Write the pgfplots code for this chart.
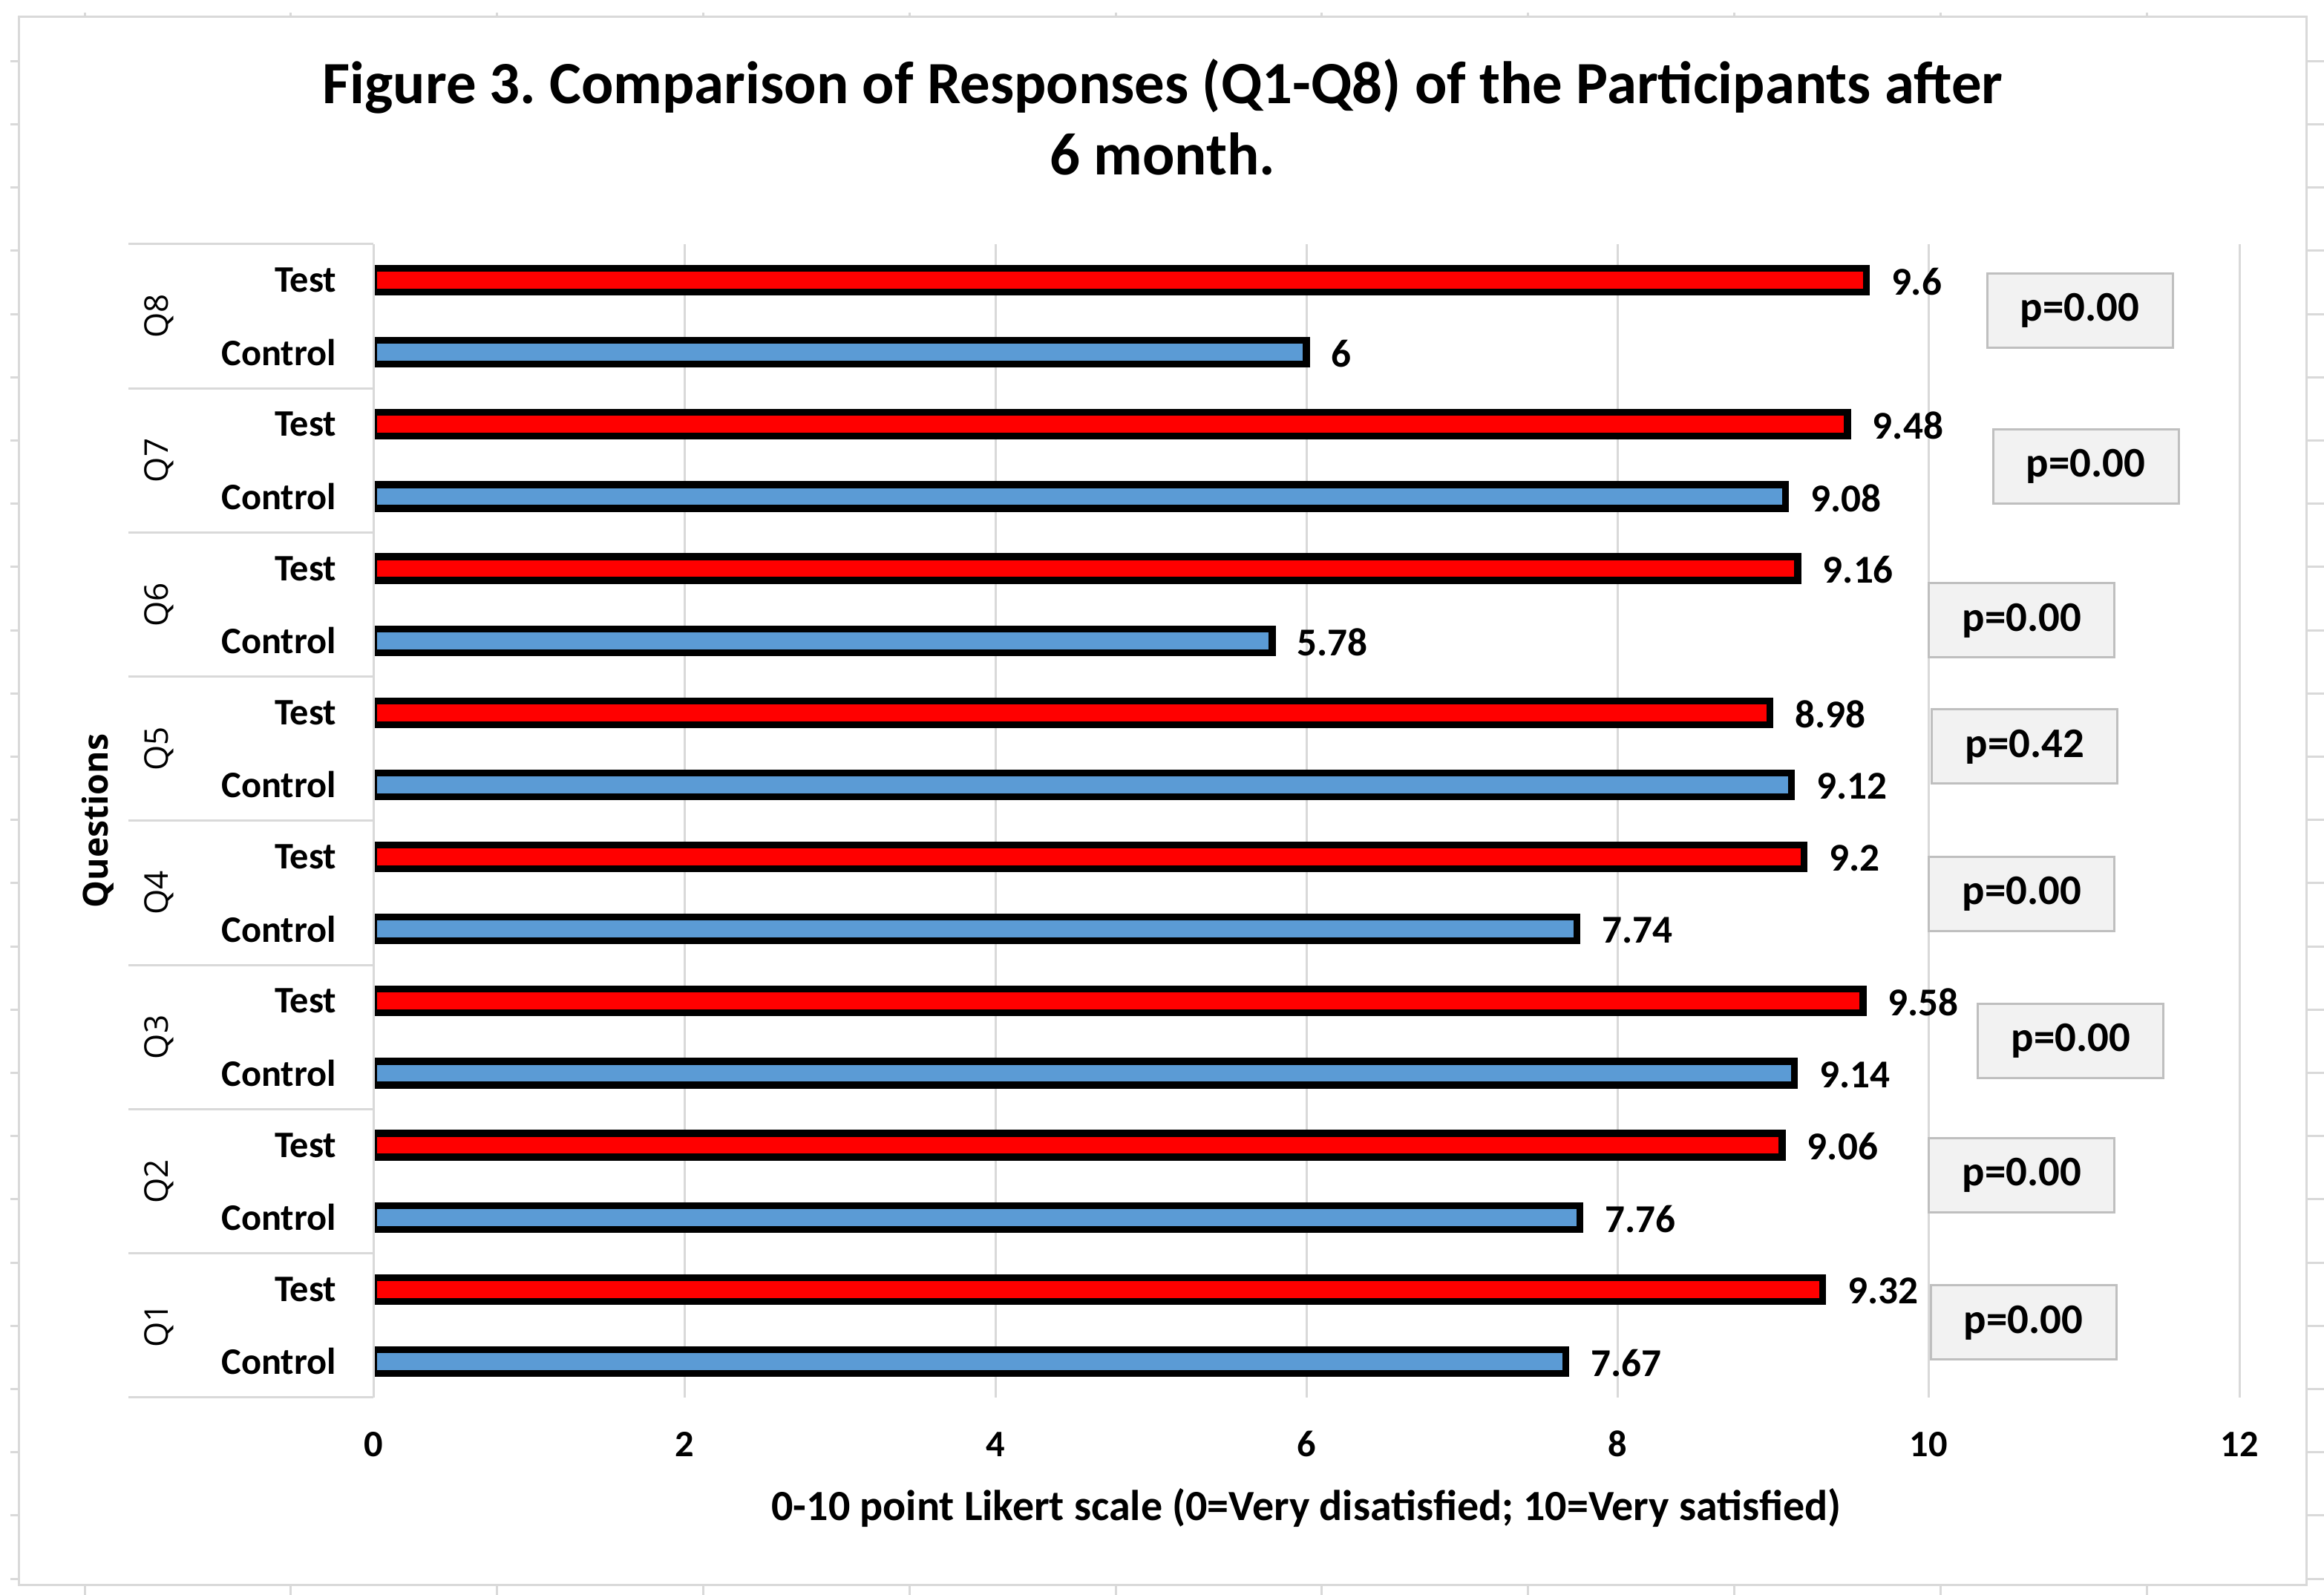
\documentclass[border=0pt]{standalone}
\usepackage{pgfplots}
\pgfplotsset{compat=1.18}
\usepackage{fontspec}
\setmainfont{Carlito}
\newfontfamily\osans{Open Sans}
\frenchspacing

\definecolor{barred}{RGB}{255,0,0}
\definecolor{barblue}{RGB}{91,155,213}
\definecolor{gridgray}{RGB}{217,217,217}
\definecolor{boxfill}{RGB}{242,242,242}
\definecolor{boxline}{RGB}{191,191,191}

\newcommand{\lbl}{\bfseries\fontsize{12.6}{14}\selectfont}
\newcommand{\vlbl}{\bfseries\fontsize{13.3}{15}\selectfont}

\begin{document}
\begin{tikzpicture}
% page frame (spreadsheet background + chart area border)
\path[use as bounding box, fill=white] (0,0) rectangle (782.75pt,537.25pt);
\foreach \k in {0,...,24}
  \draw[gridgray, line width=0.75pt] (3.5pt,537.25pt-20.6pt-\k*21.3pt) -- (6.25pt,537.25pt-20.6pt-\k*21.3pt)
        (776.75pt,537.25pt-20.6pt-\k*21.3pt) -- (782.75pt,537.25pt-20.6pt-\k*21.3pt);
\foreach \k in {0,...,11}
  \draw[gridgray, line width=0.75pt] (28.5pt+\k*69.45pt,531.5pt) -- (28.5pt+\k*69.45pt,533pt)
        (28.5pt+\k*69.45pt,0pt) -- (28.5pt+\k*69.45pt,3.25pt);
\draw[gridgray, line width=0.75pt] (6.25pt,3.25pt) rectangle (776.75pt,531.5pt);

% title
\node[anchor=base, font=\bfseries\fontsize{20.2}{24}\selectfont] at (391.6pt,502.25pt)
  {Figure 3. Comparison of Responses (Q1-Q8) of the Participants after};
\node[anchor=base, font=\bfseries\fontsize{20.2}{24}\selectfont] at (391.6pt,478.25pt)
  {6 month.};

\begin{axis}[
  at={(125.75pt,66.5pt)}, anchor=south west,
  scale only axis, width=628.5pt, height=388.5pt,
  xbar, bar width=8pt, bar shift=0pt,
  xmin=0, xmax=12, ymin=-0.5, ymax=15.5,
  xtick={0,2,...,12},
  ytick={0,...,15},
  yticklabels={Control,Test,Control,Test,Control,Test,Control,Test,
               Control,Test,Control,Test,Control,Test,Control,Test},
  axis line style={draw=none},
  major tick length=0pt,
  xmajorgrids, grid style={gridgray, line width=0.75pt},
  /pgf/number format/assume math mode=true,
  tick label style={font=\lbl},
  xticklabel style={anchor=base, yshift=-20pt},
  yticklabel style={anchor=east, inner sep=0pt, xshift=-12.25pt},
  point meta=x,
  nodes near coords,
  nodes near coords style={font=\vlbl, anchor=west, inner sep=0pt, xshift=7.3pt, yshift=-0.5pt, text=black},
  clip=false,
]
\addplot[draw=black, line width=2.3pt, fill=barred] coordinates {
  (9.32,1) (9.06,3) (9.58,5) (9.2,7) (8.98,9) (9.16,11) (9.48,13) (9.6,15)
};
\addplot[draw=black, line width=2.3pt, fill=barblue] coordinates {
  (7.67,0) (7.76,2) (9.14,4) (7.74,6) (9.12,8) (5.78,10) (9.08,12) (6,14)
};

% category table lines (also hide the bar stroke poking left of the axis)
\fill[white] (axis cs:-0.0215,-0.5) rectangle (axis cs:0,15.5);
\draw[gridgray, line width=0.75pt] (axis cs:0,-0.5) -- (axis cs:0,15.5);
\pgfplotsinvokeforeach{-0.5,1.5,3.5,5.5,7.5,9.5,11.5,13.5,15.5}{
  \draw[gridgray, line width=0.75pt] (axis cs:-1.575,#1) -- (axis cs:0,#1);
}
\tikzset{qlab/.style={rotate=90, font=\osans\fontsize{11}{13}\selectfont}}
\node[qlab] at (axis cs:-1.379,0.5) {Q1};
\node[qlab] at (axis cs:-1.379,2.5) {Q2};
\node[qlab] at (axis cs:-1.379,4.5) {Q3};
\node[qlab] at (axis cs:-1.379,6.5) {Q4};
\node[qlab] at (axis cs:-1.379,8.5) {Q5};
\node[qlab] at (axis cs:-1.379,10.5) {Q6};
\node[qlab] at (axis cs:-1.379,12.5) {Q7};
\node[qlab] at (axis cs:-1.379,14.5) {Q8};
\node[rotate=90, font=\osans\bfseries\fontsize{11.6}{14}\selectfont] at (axis cs:-1.771,7.5) {Questions};

% p-value boxes
\tikzset{pbox/.style={draw=boxline, fill=boxfill, line width=0.75pt,
  minimum width=62.5pt, minimum height=25pt, inner sep=0pt,
  font=\bfseries\fontsize{14.2}{16}\selectfont}}
\node[pbox] at (axis cs:10.974,14.58) {p=0.00};
\node[pbox] at (axis cs:11.012,12.42) {p=0.00};
\node[pbox] at (axis cs:10.601,10.28) {p=0.00};
\node[pbox] at (axis cs:10.620,8.53) {p=0.42};
\node[pbox] at (axis cs:10.601,6.49) {p=0.00};
\node[pbox] at (axis cs:10.916,4.45) {p=0.00};
\node[pbox] at (axis cs:10.601,2.58) {p=0.00};
\node[pbox] at (axis cs:10.611,0.54) {p=0.00};

% x label
\node[font=\bfseries\fontsize{14.5}{16}\selectfont] at (axis cs:6,-2.03)
  {0-10 point Likert scale (0=Very disatisfied; 10=Very satisfied)};
\end{axis}
\end{tikzpicture}
\end{document}
